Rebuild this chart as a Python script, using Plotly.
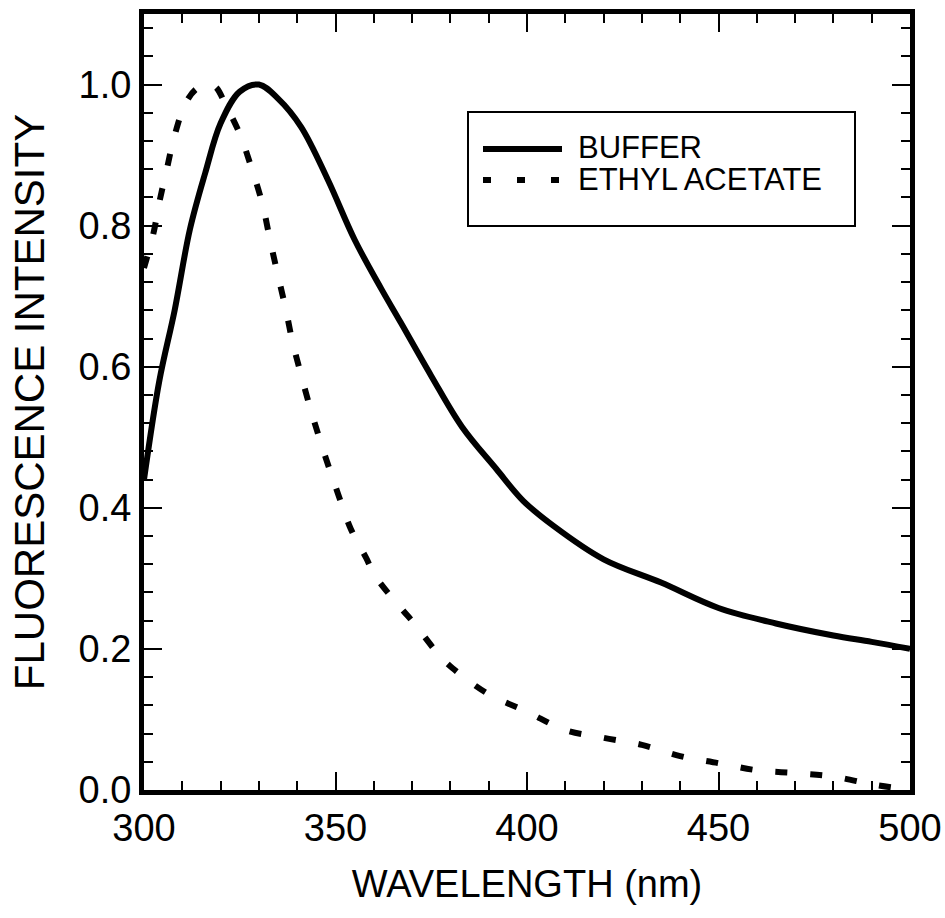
import plotly.graph_objects as go

# Emission spectra (normalised) in two environments
buffer_wl = [300, 304, 308, 312, 316, 320, 325, 330, 335, 341, 348, 355, 362, 367,
             375, 383, 392, 399, 407, 420, 435, 450, 465, 480, 490, 500]
buffer_int = [0.44, 0.58, 0.68, 0.795, 0.875, 0.945, 0.99, 1.0, 0.98, 0.94, 0.865,
              0.78, 0.71, 0.663, 0.587, 0.515, 0.455, 0.41, 0.374, 0.327, 0.294,
              0.258, 0.236, 0.219, 0.21, 0.2]

ethyl_wl = [300, 302.5, 304, 306, 308, 311, 314, 317.5, 319, 321, 325, 328, 331, 333,
            335, 337, 338.7, 340.4, 343, 345.6, 348.3, 350.4, 354, 358, 360.4, 367.4,
            370.4, 377.4, 380.5, 389.6, 400, 410, 420, 430, 440, 450, 460, 470, 480,
            490, 496]
ethyl_int = [0.74, 0.79, 0.833, 0.881, 0.928, 0.975, 0.995, 1.0, 0.995, 0.975, 0.93,
             0.883, 0.829, 0.777, 0.729, 0.682, 0.637, 0.601, 0.549, 0.502, 0.457,
             0.424, 0.37, 0.329, 0.303, 0.256, 0.237, 0.189, 0.173, 0.137, 0.111,
             0.085, 0.074, 0.064, 0.048, 0.038, 0.028, 0.024, 0.019, 0.008, 0.003]

series_names = ["BUFFER", "ETHYL ACETATE"]
x_ticks = [300, 350, 400, 450, 500]
y_ticks = [0.0, 0.2, 0.4, 0.6, 0.8, 1.0]

FONT = "Liberation Sans, Arial, Helvetica, sans-serif"
CURVE_DASH = "12px,23px"

fig = go.Figure()
fig.add_trace(go.Scatter(
    x=buffer_wl, y=buffer_int, mode="lines", name=series_names[0],
    line=dict(color="black", width=6, shape="spline", smoothing=1.0),
    showlegend=False,
))
fig.add_trace(go.Scatter(
    x=ethyl_wl, y=ethyl_int, mode="lines", name=series_names[1],
    line=dict(color="black", width=6, dash=CURVE_DASH, shape="spline", smoothing=1.0),
    showlegend=False,
))

axis_common = dict(
    showline=True, linecolor="black", linewidth=5, mirror="ticks",
    ticks="inside", ticklen=18, tickwidth=2, tickcolor="black",
    showgrid=False, zeroline=False,
    tickfont=dict(family=FONT, size=38, color="black"),
    automargin=False,
)

fig.update_xaxes(
    range=[300, 500], tickvals=x_ticks,
    minor=dict(dtick=10, tick0=300, ticks="inside", ticklen=9, tickwidth=2,
               tickcolor="black", showgrid=False),
    title=dict(text="WAVELENGTH (nm)", font=dict(family=FONT, size=38, color="black"),
               standoff=24),
    **axis_common,
)
fig.update_yaxes(
    range=[0, 1.1], tickvals=y_ticks, tickformat=".1f",
    minor=dict(dtick=0.04, tick0=0, ticks="inside", ticklen=9, tickwidth=2,
               tickcolor="black", showgrid=False),
    title=dict(text="FLUORESCENCE INTENSITY",
               font=dict(family=FONT, size=42, color="black"), standoff=22),
    **axis_common,
)

# Legend box drawn in paper coordinates
L, R, T, B = 144, 35, 14, 128
W, H = 945, 918
pw, ph = W - L - R, H - T - B


def px_x(p):
    return (p - L) / pw


def px_y(p):
    return (H - B - p) / ph


fig.add_shape(type="rect", xref="paper", yref="paper",
              x0=px_x(468), x1=px_x(855), y0=px_y(226), y1=px_y(112),
              line=dict(color="black", width=2), fillcolor="white", layer="above")
fig.add_shape(type="line", xref="paper", yref="paper",
              x0=px_x(483), x1=px_x(562), y0=px_y(149), y1=px_y(149),
              line=dict(color="black", width=6), layer="above")
fig.add_shape(type="line", xref="paper", yref="paper",
              x0=px_x(483), x1=px_x(562), y0=px_y(180), y1=px_y(180),
              line=dict(color="black", width=6, dash="8px,26px"), layer="above")
for name, ypx in zip(series_names, [147, 179]):
    fig.add_annotation(xref="paper", yref="paper", x=px_x(577), y=px_y(ypx),
                       text=name, showarrow=False, xanchor="left", yanchor="middle",
                       height=28, borderpad=0,
                       font=dict(family=FONT, size=31, color="black"))

fig.update_layout(
    width=W, height=H,
    margin=dict(l=L, r=R, t=T, b=B),
    paper_bgcolor="white", plot_bgcolor="white",
    font=dict(family=FONT, color="black"),
)

fig.write_html("out.html")
